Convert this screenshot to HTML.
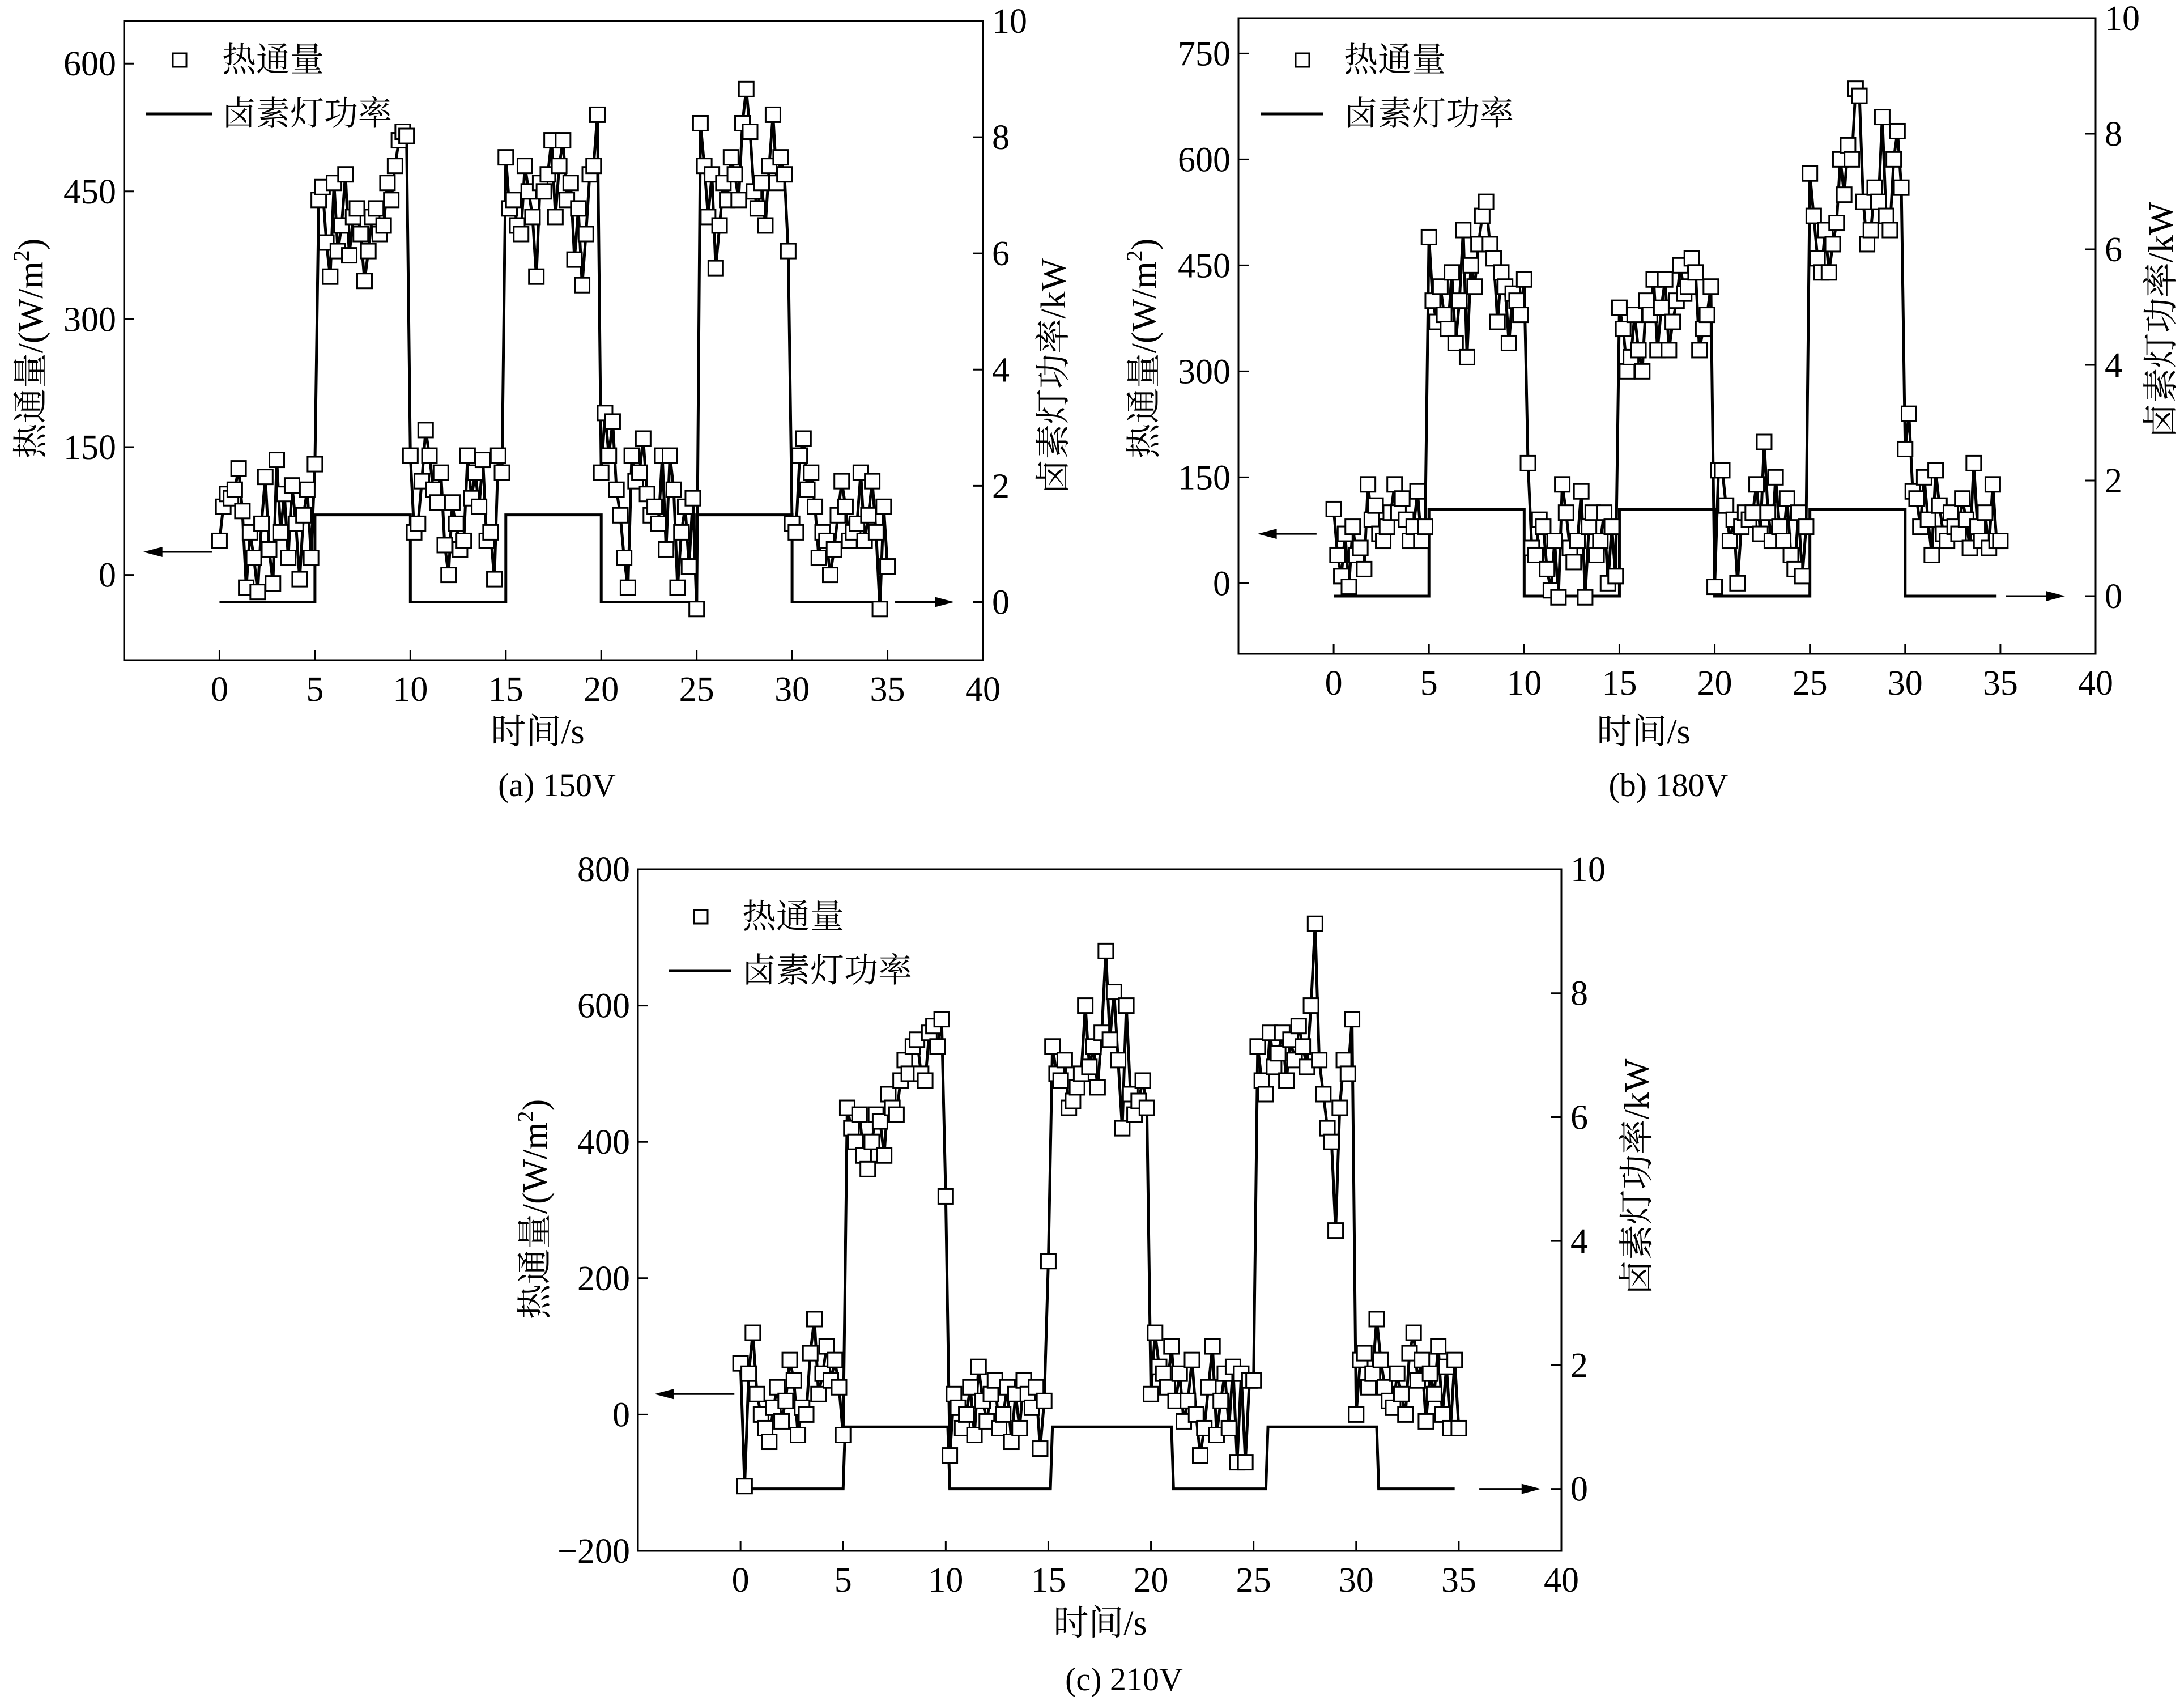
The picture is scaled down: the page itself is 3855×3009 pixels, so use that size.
<!DOCTYPE html>
<html><head><meta charset="utf-8"><style>
html,body{margin:0;padding:0;background:#fff;}
svg text{font-family:"Liberation Serif","Noto Serif CJK SC","Noto Sans CJK SC",serif;fill:#000;}
</style></head><body>
<svg id="fig" xmlns="http://www.w3.org/2000/svg" width="3855" height="3004" viewBox="0 0 3855 3004"></svg>
<script>
// ---- data: heat flux samples every 0.2 s from t=0 to t=35 ----
const sampleStep = 0.2;
const fluxA = [40,80,95,90,100,125,75,-15,50,20,-20,60,115,30,-10,135,50,95,20,105,60,-5,70,100,20,
130,440,455,390,350,460,380,410,470,375,420,430,400,345,380,420,430,400,410,460,440,480,510,520,515,
140,50,60,110,170,140,100,85,120,35,0,85,60,30,40,140,90,120,80,135,40,50,-5,140,120,
490,430,440,410,400,480,450,420,350,460,450,470,510,420,480,510,440,460,370,430,340,400,470,480,540,
120,190,140,180,100,70,20,-15,140,110,120,160,95,70,80,60,140,30,140,100,-15,50,80,10,90,
-40,530,480,420,470,360,410,460,440,490,470,440,530,570,520,450,430,460,410,480,540,460,490,470,380,
60,50,140,160,100,120,80,20,50,40,0,30,70,110,80,40,50,60,120,40,70,110,50,-40,80,10];
const fluxB = [105,40,10,70,-5,80,40,50,20,140,90,110,70,60,80,100,140,100,120,90,60,80,130,60,80,
490,400,370,420,380,360,440,340,400,500,320,450,420,480,520,540,480,460,370,440,420,340,410,400,380,
430,170,50,40,90,80,20,-10,60,-20,140,100,50,30,60,130,-20,80,100,40,60,100,0,80,10,
390,360,300,320,380,330,300,400,380,430,330,390,430,330,370,400,450,410,420,460,440,330,360,380,420,
-5,160,160,110,60,90,0,80,100,90,100,140,70,200,100,60,150,80,60,120,40,20,100,10,80,
580,520,460,440,500,440,480,510,600,550,620,600,700,690,540,480,500,560,540,660,520,500,600,640,560,
190,240,130,120,80,150,90,40,160,110,70,60,100,80,70,120,90,50,170,80,60,100,50,140,60,60];
const fluxC = [75,-105,60,120,30,0,-20,-40,10,40,-10,20,80,50,-30,10,0,90,140,30,60,100,50,80,40,
-30,450,420,400,440,380,360,400,440,430,380,470,450,440,490,520,500,540,550,500,490,560,570,540,580,
320,-60,30,10,-20,0,40,-30,70,20,-10,30,50,-20,0,40,-40,30,-20,50,30,10,40,-50,20,
225,540,500,490,520,450,460,480,500,600,510,540,480,560,680,550,620,520,420,600,470,440,460,490,450,
30,120,70,60,40,100,20,60,-10,20,80,0,-60,-20,40,100,-30,20,60,-20,70,-70,60,-70,50,
50,540,490,470,560,510,530,560,490,550,520,570,540,510,600,720,520,470,420,400,270,450,520,500,580,
0,80,90,40,60,140,80,40,20,10,60,30,0,90,120,50,80,-10,60,30,100,0,70,-20,80,-20];
// ---- data: lamp power step vertices ----
const powerTA = [0,5,5,10,10,15,15,20,20,25,25,30,30,34.8];
const powerKWA = [0,0,1.5,1.5,0,0,1.5,1.5,0,0,1.5,1.5,0,0];
const powerTB = [0,5,5,10,10,15,15,20,20,25,25,30,30,34.8];
const powerKWB = [0,0,1.5,1.5,0,0,1.5,1.5,0,0,1.5,1.5,0,0];
const powerTC = [0,5,5.1,10.1,10.2,15.1,15.2,21,21.1,25.6,25.7,31,31.1,34.8];
const powerKWC = [0,0,1,1,0,0,1,1,0,0,1,1,0,0];
// ---- tick labels ----
const xTicks = [0,5,10,15,20,25,30,35,40];
const yTicksA = [0,150,300,450,600];
const yTicksB = [0,150,300,450,600,750];
const yTicksC = [-200,0,200,400,600,800];
const rTicks = [0,2,4,6,8,10];

const NS = "http://www.w3.org/2000/svg";
const svg = document.getElementById('fig');
function mk(tag, attrs, parent){const e=document.createElementNS(NS,tag);for(const k in attrs)e.setAttribute(k,attrs[k]);(parent||svg).appendChild(e);return e;}

function panel(cfg){
  const g = mk('g',{});
  
  
  const L=cfg.box[0],T=cfg.box[1],R=cfg.box[2],B=cfg.box[3];
  const xs=t=>L+(t-(-5))/(45)*(R-L);
  const ys=v=>B-(v-cfg.ymin)/(cfg.ymax-cfg.ymin)*(B-T);
  const yr=v=>B-(v-(-1))/(11)*(B-T);
  const box=mk('rect',{x:L,y:T,width:R-L,height:B-T,fill:'none',stroke:'#000','stroke-width':3},g);
  
  
  xTicks.forEach(t=>{
    mk('line',{x1:xs(t),x2:xs(t),y1:B,y2:B-18,stroke:'#000','stroke-width':3},g);
    const tx=mk('text',{x:xs(t),y:B+72,'font-size':62,'text-anchor':'middle'},g);tx.textContent=t;
    
    
  });
  cfg.yTicks.forEach(v=>{
    mk('line',{x1:L,x2:L+18,y1:ys(v),y2:ys(v),stroke:'#000','stroke-width':3},g);
    const tx=mk('text',{x:L-14,y:ys(v)+21,'font-size':62,'text-anchor':'end'},g);tx.textContent=(v<0?'\u2212'+(-v):v);
    
    
  });
  rTicks.forEach(v=>{
    mk('line',{x1:R,x2:R-18,y1:yr(v),y2:yr(v),stroke:'#000','stroke-width':3},g);
    const tx=mk('text',{x:R+16,y:yr(v)+21,'font-size':62,'text-anchor':'start'},g);tx.textContent=v;
    
    
  });
  const pp=cfg.pT.map((t,i)=>xs(t)+','+yr(cfg.pK[i])).join(' ');
  const pl=mk('polyline',{points:pp,fill:'none',stroke:'#000','stroke-width':5},g);
  
  
  const fp=cfg.flux.map((v,i)=>xs(i*sampleStep)+','+ys(v)).join(' ');
  const fl=mk('polyline',{points:fp,fill:'none',stroke:'#000','stroke-width':5},g);
  
  
  cfg.flux.forEach((v,i)=>{
    const r=mk('rect',{x:xs(i*sampleStep)-13,y:ys(v)-13,width:26,height:26,fill:'#fff',stroke:'#000','stroke-width':3},g);
    
    
  });
  const a1y=ys(cfg.arrL[0]);
  mk('line',{x1:xs(cfg.arrL[1]),x2:xs(cfg.arrL[2])+10,y1:a1y,y2:a1y,stroke:'#000','stroke-width':3},g);
  const ah1=mk('polygon',{points:`${xs(cfg.arrL[2])},${a1y} ${xs(cfg.arrL[2])+34},${a1y-9} ${xs(cfg.arrL[2])+34},${a1y+9}`,fill:'#000'},g);
  
  
  const a2y=yr(0);
  mk('line',{x1:xs(cfg.arrR[0]),x2:xs(cfg.arrR[1])-10,y1:a2y,y2:a2y,stroke:'#000','stroke-width':3},g);
  const ah2=mk('polygon',{points:`${xs(cfg.arrR[1])},${a2y} ${xs(cfg.arrR[1])-34},${a2y-9} ${xs(cfg.arrR[1])-34},${a2y+9}`,fill:'#000'},g);
  
  
  const lg=cfg.leg;
  const ls=mk('rect',{x:lg[0]-12,y:lg[1]-12,width:24,height:24,fill:'#fff',stroke:'#000','stroke-width':3},g);
  
  
  const lt1=mk('text',{x:lg[2],y:lg[1]+20,'font-size':60},g);lt1.textContent='热通量';
  
  
  mk('line',{x1:lg[3],x2:lg[4],y1:lg[1]+95,y2:lg[1]+95,stroke:'#000','stroke-width':5},g);
  const lt2=mk('text',{x:lg[2],y:lg[1]+115,'font-size':60},g);lt2.textContent='卤素灯功率';
  
  
  const yl=mk('text',{x:0,y:0,'font-size':62,'text-anchor':'middle',transform:`translate(${cfg.yl[0]},${cfg.yl[1]}) rotate(-90)`},g);
  yl.innerHTML='热通量/(W/m<tspan dy="-24" font-size="40">2</tspan><tspan dy="24">)</tspan>';
  
  
  const rl=mk('text',{x:0,y:0,'font-size':62,'text-anchor':'middle',transform:`translate(${cfg.rl[0]},${cfg.rl[1]}) rotate(-90)`},g);
  rl.textContent='卤素灯功率/kW';
  
  
  const xl=mk('text',{x:cfg.xl[0],y:cfg.xl[1],'font-size':62,'text-anchor':'middle'},g);xl.textContent='时间/s';
  
  
  const cp=mk('text',{x:cfg.cap[0],y:cfg.cap[1],'font-size':58,'text-anchor':'middle'},g);cp.textContent=cfg.caption;
  
  
}

panel({id:'panel-a-150v',box:[219,37,1735,1165],ymin:-100,ymax:650,yTicks:yTicksA,flux:fluxA,pT:powerTA,pK:powerKWA,
  arrL:[27,-0.4,-4.0],arrR:[35.4,38.5],leg:[317,106,392,258,374],yl:[75,615],rl:[1880,664],xl:[949,1312],cap:[983,1405],caption:'(a) 150V'});
panel({id:'panel-b-180v',box:[2186,32,3699,1154],ymin:-100,ymax:800,yTicks:yTicksB,flux:fluxB,pT:powerTB,pK:powerKWB,
  arrL:[70,-0.9,-4.0],arrR:[35.3,38.4],leg:[2299,106,2372,2225,2336],yl:[2040,615],rl:[3835,565],xl:[2901,1312],cap:[2945,1405],caption:'(b) 180V'});
panel({id:'panel-c-210v',box:[1126,1534,2756,2737],ymin:-200,ymax:800,yTicks:yTicksC,flux:fluxC,pT:powerTC,pK:powerKWC,
  arrL:[30,-0.3,-4.2],arrR:[36,39],leg:[1237,1618,1310,1180,1291],yl:[965,2134],rl:[2910,2077],xl:[1942,2885],cap:[1984,2983],caption:'(c) 210V'});
</script>
</body></html>
